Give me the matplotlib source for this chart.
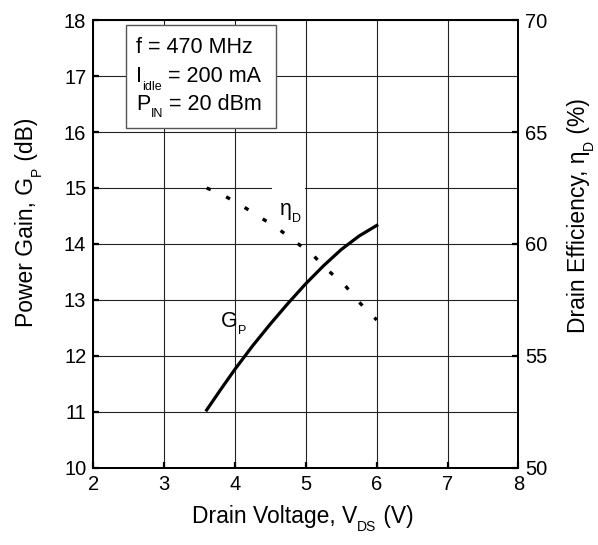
import matplotlib

matplotlib.use("Agg")

import matplotlib.pyplot as plt
from matplotlib.patches import Rectangle

plt.rcParams["font.family"] = ["Liberation Sans", "DejaVu Sans"]
plt.rcParams["lines.scale_dashes"] = False

# drain voltage sweep (V)
vds_gain = [3.6, 3.8, 4.0, 4.25, 4.5, 4.75, 5.0, 5.25, 5.5, 5.75, 6.0]
gain_db = [11.03, 11.40, 11.76, 12.18, 12.57, 12.94, 13.29, 13.61, 13.90, 14.14, 14.33]

vds_eff = [3.6, 3.85, 4.1, 4.35, 4.6, 4.85, 5.1, 5.3, 5.55, 5.75, 6.0]
drain_eff = [62.5, 62.15, 61.7, 61.2, 60.7, 60.1, 59.5, 58.85, 58.15, 57.4, 56.6]

x_ticks = [2, 3, 4, 5, 6, 7, 8]
gain_ticks = [10, 11, 12, 13, 14, 15, 16, 17, 18]
eff_ticks = [50, 55, 60, 65, 70]

# each label is a list of (text, is_subscript) pieces
conditions = [
    [("f = 470 MHz", False)],
    [("I", False), ("idle", True), (" = 200 mA", False)],
    [("P", False), ("IN", True), (" = 20 dBm", False)],
]
xlabel = [("Drain Voltage, V", False), ("DS", True), (" (V)", False)]
ylabel_left = [("Power Gain, G", False), ("P", True), (" (dB)", False)]
ylabel_right = [("Drain Efficiency, η", False), ("D", True), (" (%)", False)]
gain_label = [("G", False), ("P", True)]
eff_label = [("η", False), ("D", True)]


def rich_text(ax, pieces, xy, coords, size, sub_size, drop, vertical=False):
    """Draw text with small, lowered subscripts by chaining annotations."""
    rot = 90 if vertical else 0
    first = ax.annotate(pieces[0][0], xy=xy, xycoords=coords, fontsize=size,
                        ha="left", va="baseline", rotation=rot,
                        rotation_mode="anchor", annotation_clip=False, zorder=5)
    prev = first
    for text, is_sub in pieces[1:]:
        fs = sub_size if is_sub else size
        shift = drop if is_sub else 0.0
        if vertical:
            t = ax.annotate(text, xy=(1, 1), xycoords=(first, prev),
                            xytext=(shift, 0.3), textcoords="offset points",
                            fontsize=fs, ha="right", va="bottom", rotation=90,
                            annotation_clip=False, zorder=5)
        else:
            t = ax.annotate(text, xy=(1, 0), xycoords=(prev, first),
                            xytext=(0.3, -shift), textcoords="offset points",
                            fontsize=fs, ha="left", va="bottom",
                            annotation_clip=False, zorder=5)
        prev = t
    return first


fig = plt.figure(figsize=(5.98, 5.45), dpi=100)
ax = fig.add_axes([0.156, 0.142, 0.711, 0.821])
ax2 = ax.twinx()

ax.set_xlim(2, 8)
ax.set_ylim(10, 18)
ax2.set_ylim(50, 70)
ax.set_xticks(x_ticks)
ax.set_yticks(gain_ticks)
ax2.set_yticks(eff_ticks)

ax.grid(True, color="#222222", linewidth=0.8)
ax.set_axisbelow(True)

for a in (ax, ax2):
    for spine in a.spines.values():
        spine.set_linewidth(1.4)
    a.tick_params(direction="in", length=4, width=1.6, labelsize=14.5, pad=5)

# white patch that breaks the gridline near the efficiency label
ax.add_patch(Rectangle((4.52, 14.35), 0.47, 0.75, facecolor="white",
                       edgecolor="none", zorder=1.5))

ax.plot(vds_gain, gain_db, color="black", linewidth=2.3, zorder=3,
        solid_joinstyle="round")
ax2.plot(vds_eff, drain_eff, color="black", linewidth=2.4,
         dashes=(3.2, 12.2), zorder=3)

# test conditions box
ax.add_patch(Rectangle((2.46, 16.08), 2.12, 1.83, facecolor="white",
                       edgecolor="#555555", linewidth=1.0, zorder=2))
for pieces, y in zip(conditions, [17.41, 16.89, 16.39]):
    rich_text(ax, pieces, (2.60, y), "data", 15.5, 9, 3.8)

rich_text(ax, gain_label, (3.80, 12.52), "data", 15.5, 9, 3.8)
rich_text(ax, eff_label, (4.63, 14.52), "data", 15.5, 9, 3.8)

rich_text(ax, xlabel, (0.3205, 0.040), "figure fraction", 16.5, 10, 4.2)
rich_text(ax, ylabel_left, (0.055, 0.400), "figure fraction", 16.5, 10, 4.2,
          vertical=True)
rich_text(ax, ylabel_right, (0.979, 0.389), "figure fraction", 16.5, 10, 4.2,
          vertical=True)

fig.savefig("out.png", dpi=100)
